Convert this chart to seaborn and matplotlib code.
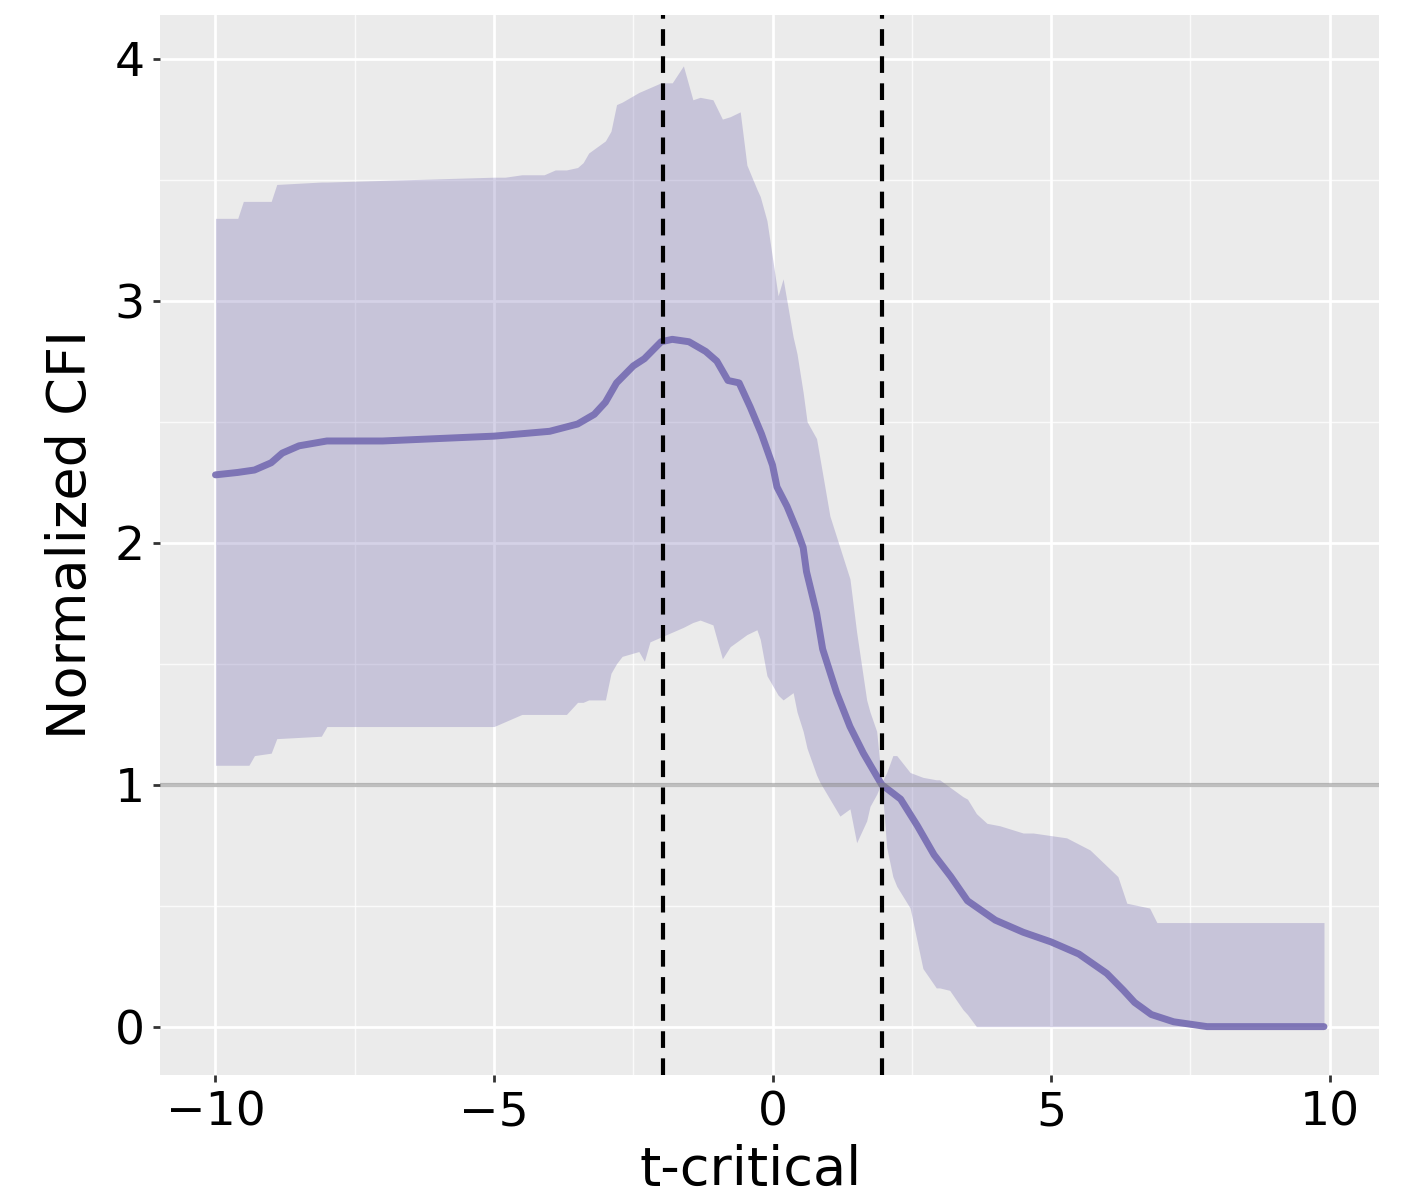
import numpy as np
import pandas as pd
import matplotlib
matplotlib.use("Agg")
import matplotlib.pyplot as plt
import seaborn as sns
from matplotlib.ticker import MultipleLocator

# ---- data ----
mean_x = [-10, -9.6, -9.3, -9.0, -8.8, -8.5, -8.0, -7.0, -6.0, -5.0, -4.0, -3.5, -3.2,
          -3.0, -2.8, -2.5, -2.3, -2.0, -1.8, -1.5, -1.2, -1.0, -0.8, -0.6, -0.4, -0.2,
          0.0, 0.08, 0.26, 0.44, 0.55, 0.61, 0.79, 0.9, 1.15, 1.39, 1.63, 1.96, 2.3, 2.6,
          2.9, 3.2, 3.5, 4.0, 4.5, 5.0, 5.5, 6.0, 6.3, 6.5, 6.8, 7.2, 7.8, 9.9]
mean_y = [2.28, 2.29, 2.30, 2.33, 2.37, 2.40, 2.42, 2.42, 2.43, 2.44, 2.46, 2.49, 2.53,
          2.58, 2.66, 2.73, 2.76, 2.83, 2.84, 2.83, 2.79, 2.75, 2.67, 2.66, 2.56, 2.45,
          2.32, 2.23, 2.15, 2.05, 1.98, 1.88, 1.71, 1.56, 1.38, 1.24, 1.13, 1.00, 0.94,
          0.83, 0.71, 0.62, 0.52, 0.44, 0.39, 0.35, 0.30, 0.22, 0.15, 0.10, 0.05, 0.02,
          0.0, 0.0]

band_x = [-10, -9.6, -9.5, -9.4, -9.3, -9.0, -8.9, -8.1, -8.0, -5.0, -4.8, -4.5, -4.1,
          -3.9, -3.7, -3.5, -3.4, -3.3, -3.0, -2.9, -2.8, -2.7, -2.55, -2.4, -2.3, -2.2,
          -2.0, -1.8, -1.6, -1.43, -1.3, -1.07, -0.9, -0.76, -0.58, -0.46, -0.28, -0.22,
          -0.1, 0.1, 0.19, 0.37, 0.44, 0.55, 0.62, 0.79, 0.85, 1.03, 1.21, 1.39, 1.51,
          1.69, 1.75, 1.87, 1.96, 2.05, 2.16, 2.23, 2.47, 2.7, 2.94, 3.0, 3.18, 3.42,
          3.5, 3.66, 3.85, 4.08, 4.5, 4.68, 5.28, 5.7, 6.2, 6.36, 6.77, 6.9, 9.9]
band_upper = [3.34, 3.34, 3.41, 3.41, 3.41, 3.41, 3.48, 3.49, 3.49, 3.51, 3.51, 3.52, 3.52,
              3.54, 3.54, 3.55, 3.57, 3.61, 3.66, 3.70, 3.81, 3.82, 3.84, 3.86, 3.87, 3.88,
              3.90, 3.90, 3.97, 3.83, 3.84, 3.83, 3.75, 3.76, 3.78, 3.56, 3.46, 3.43,
              3.33, 3.02, 3.09, 2.85, 2.78, 2.62, 2.50, 2.43, 2.35, 2.11, 1.98, 1.85, 1.63,
              1.35, 1.30, 1.22, 1.01, 1.05, 1.12, 1.12, 1.05, 1.03, 1.02, 1.02, 0.99, 0.95,
              0.94, 0.88, 0.84, 0.83, 0.80, 0.80, 0.78, 0.73, 0.62, 0.51, 0.49, 0.43, 0.43]
band_lower = [1.08, 1.08, 1.08, 1.08, 1.12, 1.13, 1.19, 1.20, 1.24, 1.24, 1.26, 1.29, 1.29,
              1.29, 1.29, 1.34, 1.34, 1.35, 1.35, 1.46, 1.50, 1.53, 1.54, 1.55, 1.51, 1.59,
              1.61, 1.63, 1.65, 1.67, 1.68, 1.66, 1.52, 1.57, 1.60, 1.62, 1.64, 1.60,
              1.45, 1.37, 1.35, 1.38, 1.30, 1.22, 1.15, 1.04, 1.01, 0.94, 0.87, 0.90, 0.76,
              0.85, 0.91, 0.96, 1.01, 0.74, 0.62, 0.58, 0.49, 0.24, 0.16, 0.16, 0.15, 0.07,
              0.05, 0.0, 0.0, 0.0, 0.0, 0.0, 0.0, 0.0, 0.0, 0.0, 0.0, 0.0, 0.0]

crit_lines = [-1.96, 1.96]
ref_level = 1.0
x_label = "t-critical"
y_label = "Normalized CFI"

# ---- style ----
sns.set_theme(style="darkgrid")
plt.rcParams.update({
    "axes.facecolor": "#EBEBEB",
    "grid.color": "white",
    "text.color": "black",
    "axes.labelcolor": "black",
    "xtick.color": "black",
    "ytick.color": "black",
    "font.family": ["DejaVu Sans"],
})

fig = plt.figure(figsize=(14.09, 11.95), dpi=100)
ax = fig.add_axes([0.1136, 0.1004, 0.8654, 0.887])

purple = "#756bb1"
ax.fill_between(band_x, band_lower, band_upper, color=purple, alpha=0.3, linewidth=0)
df = pd.DataFrame({"t": mean_x, "cfi": mean_y})
sns.lineplot(data=df, x="t", y="cfi", ax=ax, color=purple, linewidth=5, alpha=0.9)

ax.axhline(ref_level, color="gray", alpha=0.5, linewidth=3)
for xv in crit_lines:
    ax.axvline(xv, color="black", linestyle=(0, (4, 2.5)), linewidth=3)

ax.set_xlim(-10.995, 10.895)
ax.set_ylim(-0.2, 4.18)
ax.xaxis.set_major_locator(MultipleLocator(5))
ax.xaxis.set_minor_locator(MultipleLocator(2.5))
ax.yaxis.set_major_locator(MultipleLocator(1))
ax.yaxis.set_minor_locator(MultipleLocator(0.5))
ax.grid(which="major", color="white", linewidth=2)
ax.grid(which="minor", color="white", linewidth=1, alpha=0.8)
ax.tick_params(which="major", direction="out", length=5, width=2, color="#333333",
               labelsize=34, labelcolor="black", pad=6, bottom=True, left=True)
ax.tick_params(which="minor", length=0)
for s in ax.spines.values():
    s.set_visible(False)
ax.set_xlabel(x_label, fontsize=39, color="black")
ax.set_ylabel(y_label, fontsize=39, color="black")
ax.xaxis.set_label_coords(0.484, -0.065)
ax.yaxis.set_label_coords(-0.052, 0.51)

fig.savefig("out.png", dpi=100)
